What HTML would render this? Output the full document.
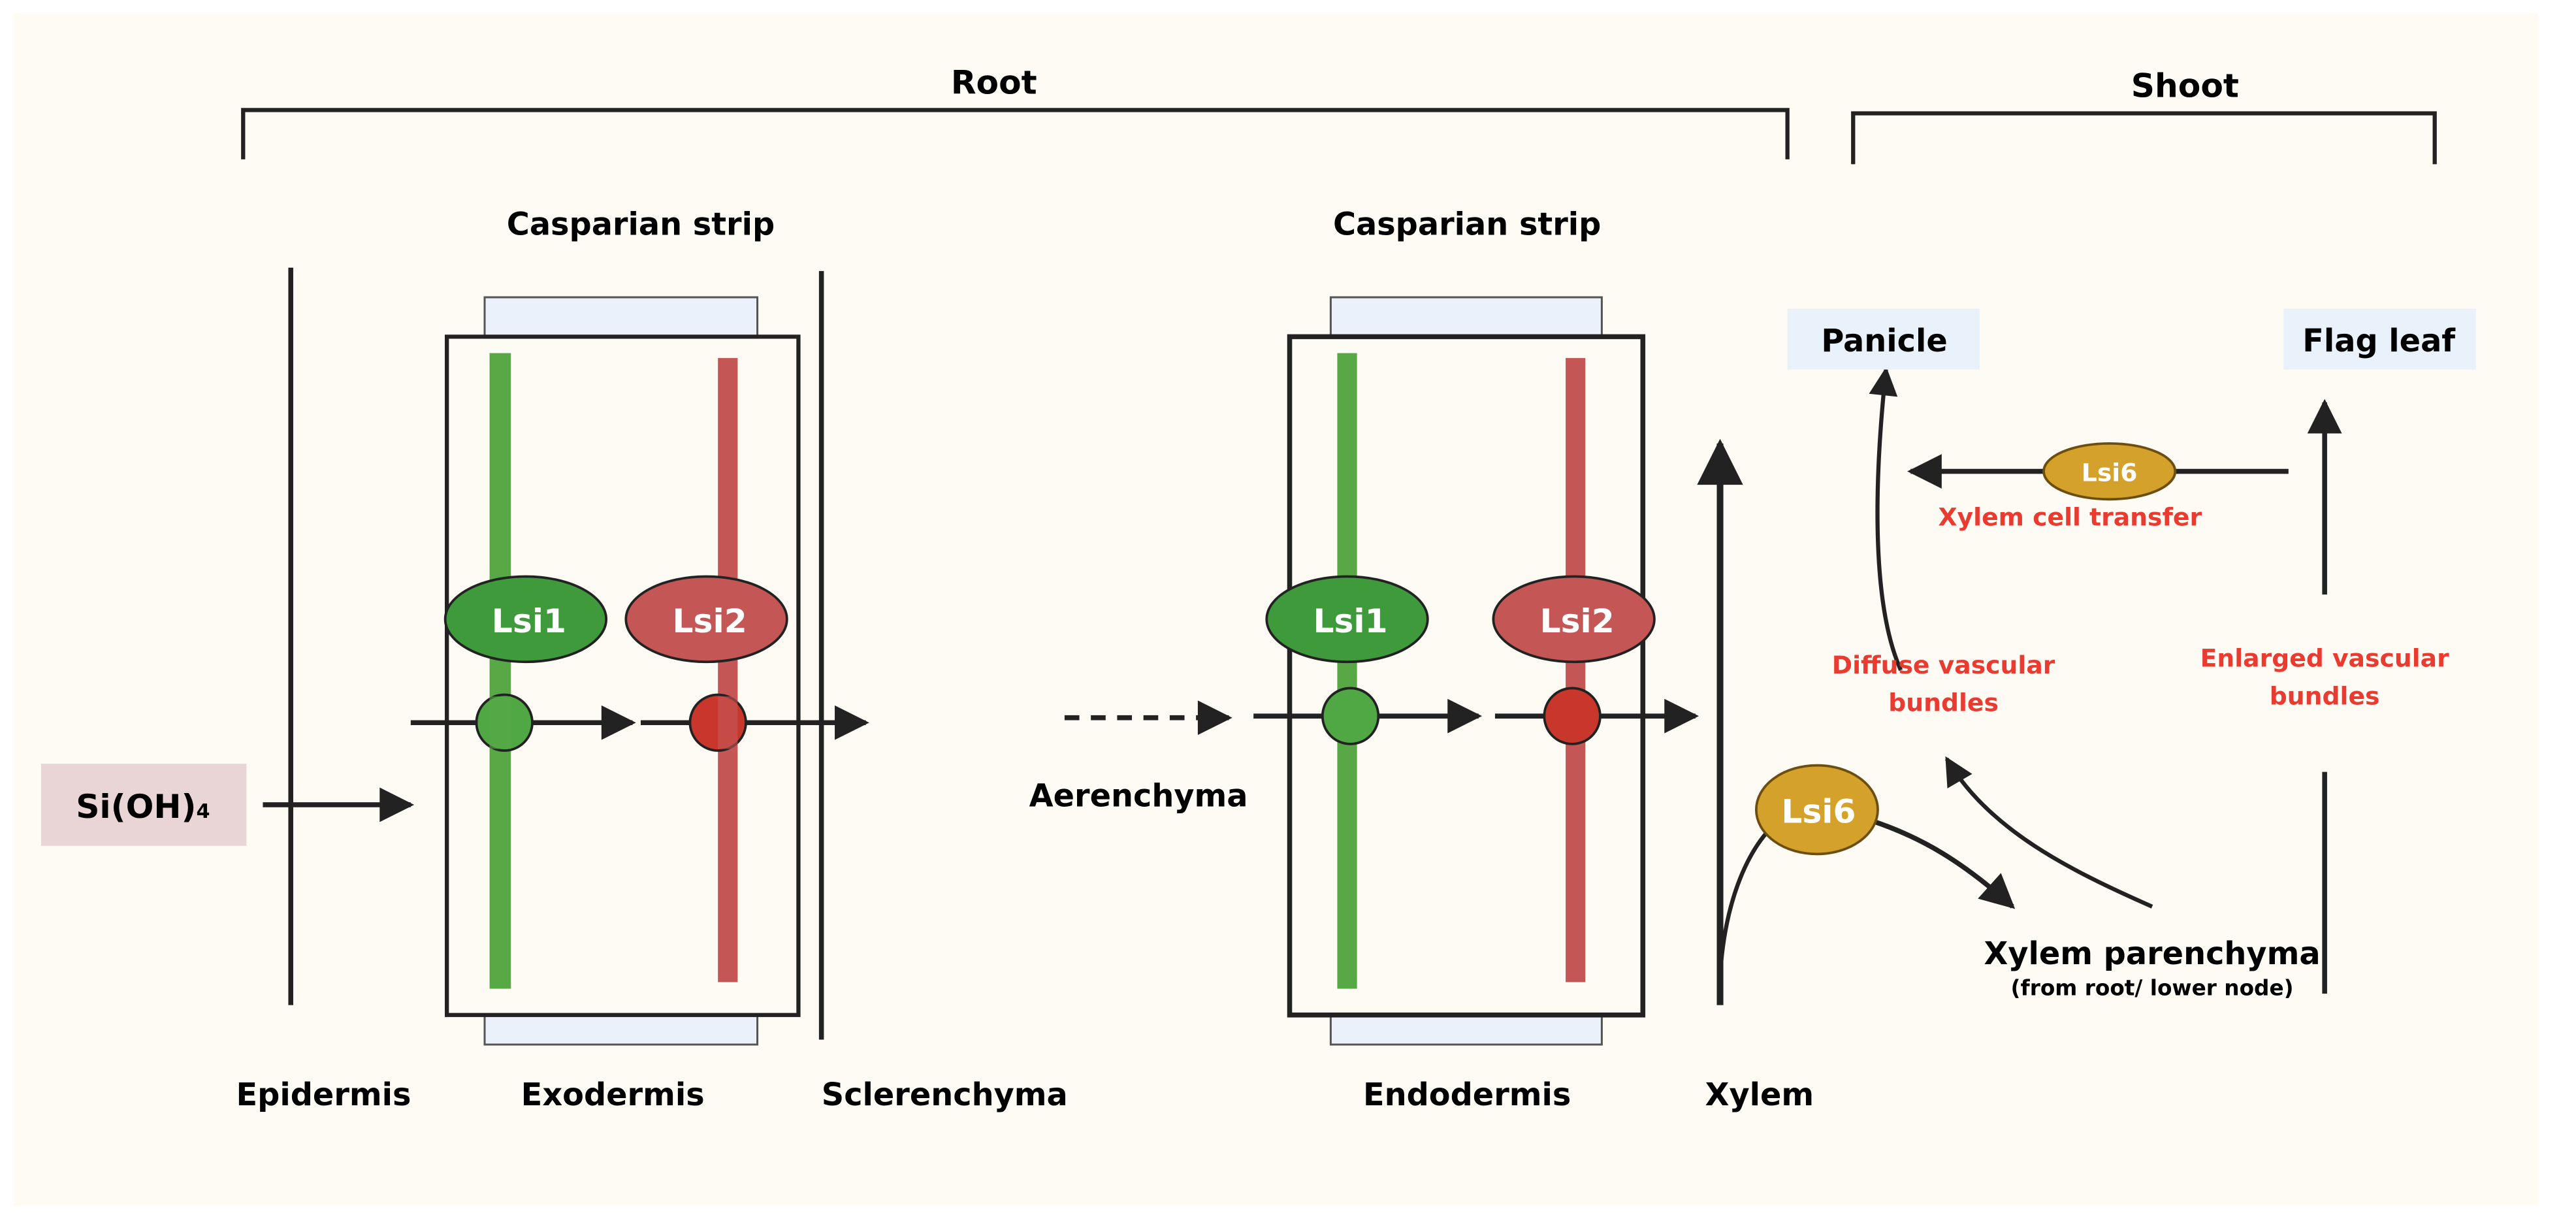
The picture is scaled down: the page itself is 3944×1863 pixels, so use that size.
<!DOCTYPE html>
<html><head><meta charset="utf-8"><style>
html,body{margin:0;padding:0;background:#fff;}
svg{display:block;}
text{font-family:"DejaVu Sans","Liberation Sans",sans-serif;font-weight:bold;}
</style></head><body>
<svg width="3944" height="1863" viewBox="0 0 1568 741" preserveAspectRatio="none" xmlns="http://www.w3.org/2000/svg">
<defs>
<marker id="ah" viewBox="0 0 10 10" refX="9" refY="5" markerWidth="8" markerHeight="7" orient="auto" markerUnits="strokeWidth"><path d="M0,0 L10,5 L0,10 z" fill="#222"/></marker>
</defs>
<rect x="0" y="0" width="1568" height="741" fill="#ffffff"/>
<rect x="8" y="8" width="1537" height="726" fill="#fdfbf4"/>
<g stroke="#222" stroke-width="2.5" fill="none">
<path d="M148,97 V67 H1088 V97"/>
<path d="M1128,100 V69 H1482 V100"/>
</g>
<text x="605" y="57" font-size="20" text-anchor="middle">Root</text>
<text x="1330" y="59" font-size="20" text-anchor="middle">Shoot</text>
<text x="390" y="143" font-size="19" text-anchor="middle">Casparian strip</text>
<text x="893" y="143" font-size="19" text-anchor="middle">Casparian strip</text>
<line x1="177" y1="163" x2="177" y2="612" stroke="#222" stroke-width="3"/>
<line x1="500" y1="165" x2="500" y2="633" stroke="#222" stroke-width="3"/>
<rect x="295" y="181" width="166" height="24" fill="#ebf1fa" stroke="#555" stroke-width="1.2"/>
<rect x="295" y="618" width="166" height="18" fill="#ebf1fa" stroke="#555" stroke-width="1.2"/>
<rect x="272" y="205" width="214" height="413" fill="#fdfbf4" stroke="#222" stroke-width="2.5"/>
<rect x="298" y="215" width="13" height="387" fill="#58a946"/>
<rect x="437" y="218" width="12" height="380" fill="#c55656"/>
<rect x="810" y="181" width="165" height="24" fill="#ebf1fa" stroke="#555" stroke-width="1.2"/>
<rect x="810" y="618" width="165" height="18" fill="#ebf1fa" stroke="#555" stroke-width="1.2"/>
<rect x="785" y="205" width="215" height="413" fill="#fdfbf4" stroke="#222" stroke-width="3"/>
<rect x="814" y="215" width="12" height="387" fill="#58a946"/>
<rect x="953" y="218" width="12" height="380" fill="#c55656"/>
<g stroke="#222" stroke-width="3" fill="none">
<line x1="250" y1="440" x2="385" y2="440" marker-end="url(#ah)"/>
<line x1="390" y1="440" x2="527" y2="440" marker-end="url(#ah)"/>
<line x1="160" y1="490" x2="250" y2="490" marker-end="url(#ah)"/>
<line x1="648" y1="437" x2="748" y2="437" stroke-dasharray="9,7" marker-end="url(#ah)"/>
<line x1="763" y1="436" x2="900" y2="436" marker-end="url(#ah)"/>
<line x1="910" y1="436" x2="1032" y2="436" marker-end="url(#ah)"/>
<line x1="1047" y1="612" x2="1047" y2="270" stroke-width="4" marker-end="url(#ah)"/>
<path d="M1047,595 C1050,540 1070,505 1090,495" stroke-width="2.5"/>
<path d="M1140,500 C1170,510 1195,525 1225,552" stroke-width="3" marker-end="url(#ah)"/>
<line x1="1393" y1="287" x2="1163" y2="287" marker-end="url(#ah)"/>
<path d="M1157,408 C1140,370 1140,300 1148,225" stroke-width="2.5" marker-end="url(#ah)"/>
<line x1="1415" y1="362" x2="1415" y2="245" marker-end="url(#ah)"/>
<line x1="1415" y1="470" x2="1415" y2="605"/>
<path d="M1310,552 C1260,530 1210,505 1185,462" stroke-width="2.5" marker-end="url(#ah)"/>
</g>
<circle cx="307" cy="440" r="17" fill="#4fa844" stroke="#222" stroke-width="1.5"/>
<circle cx="437" cy="440" r="17" fill="#c9372c" stroke="#222" stroke-width="1.5"/>
<circle cx="822" cy="436" r="17" fill="#4fa844" stroke="#222" stroke-width="1.5"/>
<circle cx="957" cy="436" r="17" fill="#c9372c" stroke="#222" stroke-width="1.5"/>
<rect x="298" y="424" width="13" height="32" fill="#58a946" opacity="0.6"/>
<rect x="437" y="424" width="12" height="32" fill="#c55656" opacity="0.6"/>
<ellipse cx="320" cy="377" rx="49" ry="26" fill="#3f9a3c" stroke="#222" stroke-width="1.5"/>
<ellipse cx="430" cy="377" rx="49" ry="26" fill="#c55656" stroke="#222" stroke-width="1.5"/>
<ellipse cx="820" cy="377" rx="49" ry="26" fill="#3f9a3c" stroke="#222" stroke-width="1.5"/>
<ellipse cx="958" cy="377" rx="49" ry="26" fill="#c55656" stroke="#222" stroke-width="1.5"/>
<g fill="#fff" font-size="20" text-anchor="middle">
<text x="322" y="385">Lsi1</text><text x="432" y="385">Lsi2</text>
<text x="822" y="385">Lsi1</text><text x="960" y="385">Lsi2</text>
</g>
<ellipse cx="1106" cy="493" rx="37" ry="27" fill="#d4a12a" stroke="#6b4e10" stroke-width="1.5"/>
<text x="1107" y="501" fill="#fff" font-size="20" text-anchor="middle">Lsi6</text>
<ellipse cx="1284" cy="287" rx="40" ry="17" fill="#d4a12a" stroke="#6b4e10" stroke-width="1.5"/>
<text x="1284" y="293" fill="#fff" font-size="15" text-anchor="middle">Lsi6</text>
<rect x="25" y="465" width="125" height="50" fill="#e9d5d5"/>
<text x="87" y="498" font-size="20" text-anchor="middle">Si(OH)<tspan font-size="12">4</tspan></text>
<rect x="1088" y="188" width="117" height="37" fill="#e9f1fa"/>
<rect x="1390" y="188" width="117" height="37" fill="#e9f1fa"/>
<text x="1147" y="214" font-size="19" text-anchor="middle">Panicle</text>
<text x="1448" y="214" font-size="19" text-anchor="middle">Flag leaf</text>
<g fill="#ea3b30" font-size="15" text-anchor="middle">
<text x="1260" y="320">Xylem cell transfer</text>
<text x="1183" y="410">Diffuse vascular</text><text x="1183" y="433">bundles</text>
<text x="1415" y="406">Enlarged vascular</text><text x="1415" y="429">bundles</text>
</g>
<text x="1310" y="587" font-size="19" text-anchor="middle">Xylem parenchyma</text>
<text x="1310" y="606" font-size="13" text-anchor="middle">(from root/ lower node)</text>
<text x="693" y="491" font-size="19" text-anchor="middle">Aerenchyma</text>
<g font-size="19" text-anchor="middle">
<text x="197" y="673">Epidermis</text>
<text x="373" y="673">Exodermis</text>
<text x="575" y="673">Sclerenchyma</text>
<text x="893" y="673">Endodermis</text>
<text x="1071" y="673">Xylem</text>
</g>
</svg>
</body></html>
